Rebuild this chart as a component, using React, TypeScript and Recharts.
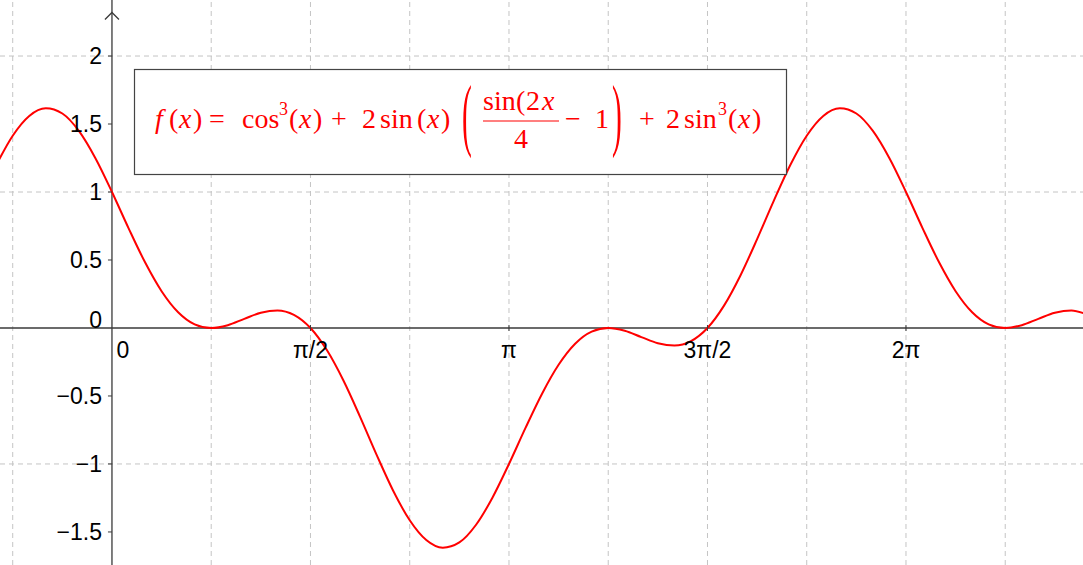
import React from 'react';
import { LineChart, Line, XAxis, YAxis, ReferenceLine, ReferenceDot } from 'recharts';

// sampled every 7.5 degrees across the visible window
const angleDeg = [
  -52.5, -45, -37.5, -30, -22.5, -15, -7.5, 0, 7.5, 15, 22.5, 30, 37.5, 45, 52.5, 60, 67.5, 75, 82.5, 90,
  97.5, 105, 112.5, 120, 127.5, 135, 142.5, 150, 157.5, 165, 172.5, 180, 187.5, 195, 202.5, 210, 217.5,
  225, 232.5, 240, 247.5, 255, 262.5, 270, 277.5, 285, 292.5, 300, 307.5, 315, 322.5, 330, 337.5, 345,
  352.5, 360, 367.5, 375, 382.5, 390, 397.5, 405, 412.5, 420, 427.5, 435, 442.5,
];
const fValues = [
  1.1968, 1.4142, 1.5597, 1.616, 1.5772, 1.4489, 1.2481, 1.0, 0.7348, 0.483, 0.2706, 0.116, 0.027, 0.0,
  0.0207, 0.067, 0.1121, 0.1294, 0.0967, 0.0, -0.1643, -0.3882, -0.6533, -0.933, -1.1968, -1.4142,
  -1.5597, -1.616, -1.5772, -1.4489, -1.2481, -1.0, -0.7348, -0.483, -0.2706, -0.116, -0.027, 0.0,
  -0.0207, -0.067, -0.1121, -0.1294, -0.0967, 0.0, 0.1643, 0.3882, 0.6533, 0.933, 1.1968, 1.4142,
  1.5597, 1.616, 1.5772, 1.4489, 1.2481, 1.0, 0.7348, 0.483, 0.2706, 0.116, 0.027, 0.0, 0.0207, 0.067,
  0.1121, 0.1294, 0.0967,
];

const xTickSteps = [0, 1, 2, 3, 4]; // multiples of pi/2
const xTickLabels = ['0', 'π/2', 'π', '3π/2', '2π'];
const xGridSteps = [-1, 1, 2, 3, 4, 5, 6, 7, 8, 9]; // multiples of pi/4
const yTicks = [-1.5, -1, -0.5, 0, 0.5, 1, 1.5, 2];
const yTickLabels = ['−1.5', '−1', '−0.5', '0', '0.5', '1', '1.5', '2'];
const yGrid = [-1, 1, 2];

const X_DOMAIN = [-0.886, 7.684];
const Y_DOMAIN = [-1.743, 2.412];

const data = angleDeg.map((d, i) => ({ x: (d * Math.PI) / 180, y: fValues[i] }));

const labelFont = '"Liberation Sans", Arial, sans-serif';
const mathFont = '"Liberation Serif", "Times New Roman", serif';
const red = '#ff0000';
const gridColor = '#c4c4c4';
const axisColor = '#3a3a3a';
const labelSize = 23;

const XTick = (label: string) => (props: any) => {
  const { cx, cy } = props;
  const isZero = label === '0';
  return (
    <g>
      {!isZero && <line x1={cx} y1={cy - 3} x2={cx} y2={cy + 3} stroke={axisColor} strokeWidth={1} />}
      <text
        x={isZero ? cx + 11 : cx}
        y={cy + 22}
        dy="0.35em"
        textAnchor="middle"
        fontSize={labelSize}
        fontFamily={labelFont}
        fill="#000"
      >
        {label}
      </text>
    </g>
  );
};

const YTick = (label: string) => (props: any) => {
  const { cx, cy } = props;
  const isZero = label === '0';
  return (
    <g>
      {!isZero && <line x1={cx - 4} y1={cy} x2={cx} y2={cy} stroke={axisColor} strokeWidth={1} />}
      <text
        x={cx - 10}
        y={isZero ? cy - 8 : cy}
        dy="0.35em"
        textAnchor="end"
        fontSize={labelSize}
        fontFamily={labelFont}
        fill="#000"
      >
        {label}
      </text>
    </g>
  );
};

const ArrowUp = (props: any) => {
  const { cx, cy } = props;
  return (
    <polyline
      points={`${cx - 7},${cy + 7} ${cx},${cy} ${cx + 7},${cy + 7}`}
      fill="none"
      stroke={axisColor}
      strokeWidth={1.3}
    />
  );
};

const Formula = () => {
  const base = 128;
  const num = 110;
  const fs = 28;
  const t = (x: number, s: string, italic = false, y = base, size = fs) => (
    <text x={x} y={y} fontSize={size} fontStyle={italic ? 'italic' : 'normal'} fontFamily={mathFont} fill={red}>
      {s}
    </text>
  );
  return (
    <svg
      width={1083}
      height={565}
      style={{ position: 'absolute', left: 0, top: 0, pointerEvents: 'none' }}
    >
      <rect x={134.5} y={69.5} width={652} height={105} fill="#fff" stroke="#444" strokeWidth={1.2} />
      {t(155, 'f', true)}
      {t(169, '(')}
      {t(179, 'x', true)}
      {t(193, ')')}
      {t(209, '=')}
      {t(242, 'cos')}
      {t(279, '3', false, 115, 18)}
      {t(289, '(')}
      {t(299, 'x', true)}
      {t(313, ')')}
      {t(331, '+')}
      {t(362, '2')}
      {t(380, 'sin')}
      {t(417, '(')}
      {t(427, 'x', true)}
      {t(441, ')')}
      <text x={0} y={0} fontSize={fs} fontFamily={mathFont} fill={red} transform="translate(462,141) scale(1.05,2.85)">
        (
      </text>
      {t(483, 'sin', false, num)}
      {t(516, '(', false, num)}
      {t(526, '2', false, num)}
      {t(542, 'x', true, num)}
      <line x1={483} y1={121} x2={559} y2={121} stroke={red} strokeWidth={1.2} />
      {t(514, '4', false, 148)}
      {t(565, '−')}
      {t(595, '1')}
      <text x={0} y={0} fontSize={fs} fontFamily={mathFont} fill={red} transform="translate(612,141) scale(1.05,2.85)">
        )
      </text>
      {t(639, '+')}
      {t(666, '2')}
      {t(684, 'sin')}
      {t(718, '3', false, 115, 18)}
      {t(728, '(')}
      {t(738, 'x', true)}
      {t(752, ')')}
    </svg>
  );
};

export default function App() {
  return (
    <div style={{ position: 'absolute', left: 0, top: 0, width: 1083, height: 565, background: '#fff' }}>
      <LineChart width={1083} height={565} data={data} margin={{ top: 0, right: 0, bottom: 0, left: 0 }}>
        <XAxis type="number" dataKey="x" domain={X_DOMAIN} allowDataOverflow hide />
        <YAxis type="number" domain={Y_DOMAIN} allowDataOverflow hide />
        {xGridSteps.map((k) => (
          <ReferenceLine
            key={`gx${k}`}
            x={(k * Math.PI) / 4}
            stroke={gridColor}
            strokeDasharray="5 4"
            strokeWidth={1}
          />
        ))}
        {yGrid.map((v) => (
          <ReferenceLine key={`gy${v}`} y={v} stroke={gridColor} strokeDasharray="5 4" strokeWidth={1} />
        ))}
        <ReferenceLine x={0} stroke={axisColor} strokeWidth={1.3} />
        <ReferenceLine y={0} stroke={axisColor} strokeWidth={1.3} />
        <ReferenceDot x={0} y={2.32} r={0} shape={ArrowUp} />
        {xTickSteps.map((k, i) => (
          <ReferenceDot key={`xt${k}`} x={(k * Math.PI) / 2} y={0} r={0} shape={XTick(xTickLabels[i])} />
        ))}
        {yTicks.map((v, i) => (
          <ReferenceDot key={`yt${v}`} x={0} y={v} r={0} shape={YTick(yTickLabels[i])} />
        ))}
        <Line
          type="monotone"
          dataKey="y"
          stroke={red}
          strokeWidth={2}
          dot={false}
          isAnimationActive={false}
        />
      </LineChart>
      <Formula />
    </div>
  );
}
